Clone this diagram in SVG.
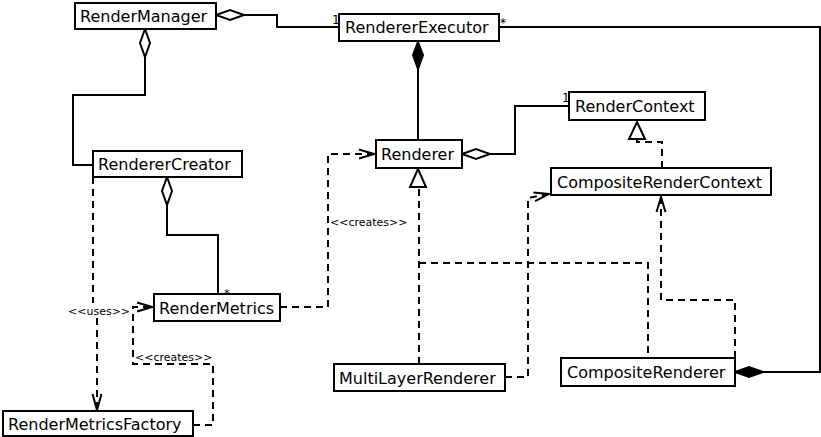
<svg xmlns="http://www.w3.org/2000/svg" width="821" height="437" viewBox="0 0 821 437">
<style>
.box{fill:#fff;stroke:#000;stroke-width:2}
.t{font-family:"DejaVu Sans",sans-serif;font-size:16px;fill:#000}
.s{font-family:"DejaVu Sans",sans-serif;font-size:11px;fill:#000}
.m{font-family:"DejaVu Sans",sans-serif;font-size:12px;fill:#000}
.ln{fill:none;stroke:#000;stroke-width:2}
.dl{fill:none;stroke:#000;stroke-width:2;stroke-dasharray:7,5}
.od{fill:#fff;stroke:#000;stroke-width:2}
.fd{fill:#000;stroke:#000;stroke-width:2}
</style>
<defs>
<marker id="open" markerUnits="userSpaceOnUse" viewBox="-16 -6 18 12" refX="0" refY="0" markerWidth="18" markerHeight="12" orient="auto">
<path d="M-15,-4.5 L0,0 L-15,4.5" fill="none" stroke="#000" stroke-width="2"/>
</marker>
</defs>
<rect width="821" height="437" fill="#fff"/>
<g id="connectors">
<path class="ln" d="M244,15 H277 V27 H339"/>
<polygon class="od" points="216,15 230,10 244,15 230,20"/>
<text class="m" x="332" y="24">1</text>
<path class="ln" d="M499,27 H820 V372 H763"/>
<polygon class="fd" points="735,372 749,367 763,372 749,377"/>
<text class="m" x="500" y="27">*</text>
<path class="ln" d="M145,57 V95 H73 V165 H93"/>
<polygon class="od" points="145,29 150,43 145,57 140,43"/>
<path class="ln" d="M167,205 V235 H218 V294"/>
<polygon class="od" points="167,177 172,191 167,205 162,191"/>
<text class="s" x="224" y="297">*</text>
<path class="ln" d="M418,69 V140"/>
<polygon class="fd" points="418,42 423,55 418,69 413,55"/>
<path class="ln" d="M490,154 H515 V106 H569"/>
<polygon class="od" points="462,154 476,149 490,154 476,159"/>
<text class="m" x="562" y="102">1</text>
<path class="dl" d="M662,168 V142 H637 V139"/>
<polygon class="od" points="637,122 645,139 629,139"/>
<path class="dl" d="M419,364 V187 M419,263 H648 V358"/>
<polygon class="od" points="418,169 426,187 410,187"/>
<path class="dl" d="M505,377 H528 V198 L549,194" marker-end="url(#open)"/>
<path class="dl" d="M735,358 V300 H661 V197" marker-end="url(#open)"/>
<path class="dl" d="M280,307 H328 V154 H374" marker-end="url(#open)"/>
<text class="s" x="330" y="226">&lt;&lt;creates&gt;&gt;</text>
<path class="dl" d="M193,425 H213 V364 H133 V307 H152" marker-end="url(#open)"/>
<text class="s" x="135" y="361">&lt;&lt;creates&gt;&gt;</text>
<path class="dl" d="M93,177 V303 M97,318 V409"/>
<path d="M92.5,394 L97,410 L101.5,394" fill="none" stroke="#000" stroke-width="2"/>
<text class="s" x="68" y="315">&lt;&lt;uses&gt;&gt;</text>
</g>
<g id="RenderManager"><rect class="box" x="75" y="3" width="141" height="26"/><text class="t" x="80" y="22">RenderManager</text></g>
<g id="RendererExecutor"><rect class="box" x="339" y="14" width="160" height="27"/><text class="t" x="345" y="33">RendererExecutor</text></g>
<g id="RendererCreator"><rect class="box" x="93" y="151" width="149" height="26"/><text class="t" x="98" y="170">RendererCreator</text></g>
<g id="Renderer"><rect class="box" x="376" y="140" width="86" height="28"/><text class="t" x="381" y="160">Renderer</text></g>
<g id="RenderContext"><rect class="box" x="569" y="92" width="136" height="28"/><text class="t" x="575" y="112">RenderContext</text></g>
<g id="CompositeRenderContext"><rect class="box" x="551" y="168" width="220" height="27"/><text class="t" x="557" y="188">CompositeRenderContext</text></g>
<g id="RenderMetrics"><rect class="box" x="154" y="294" width="126" height="27"/><text class="t" x="159" y="314">RenderMetrics</text></g>
<g id="MultiLayerRenderer"><rect class="box" x="334" y="364" width="171" height="27"/><text class="t" x="339" y="384">MultiLayerRenderer</text></g>
<g id="CompositeRenderer"><rect class="box" x="561" y="358" width="174" height="28"/><text class="t" x="567" y="378">CompositeRenderer</text></g>
<g id="RenderMetricsFactory"><rect class="box" x="3" y="411" width="190" height="25"/><text class="t" x="8" y="430">RenderMetricsFactory</text></g>
</svg>
